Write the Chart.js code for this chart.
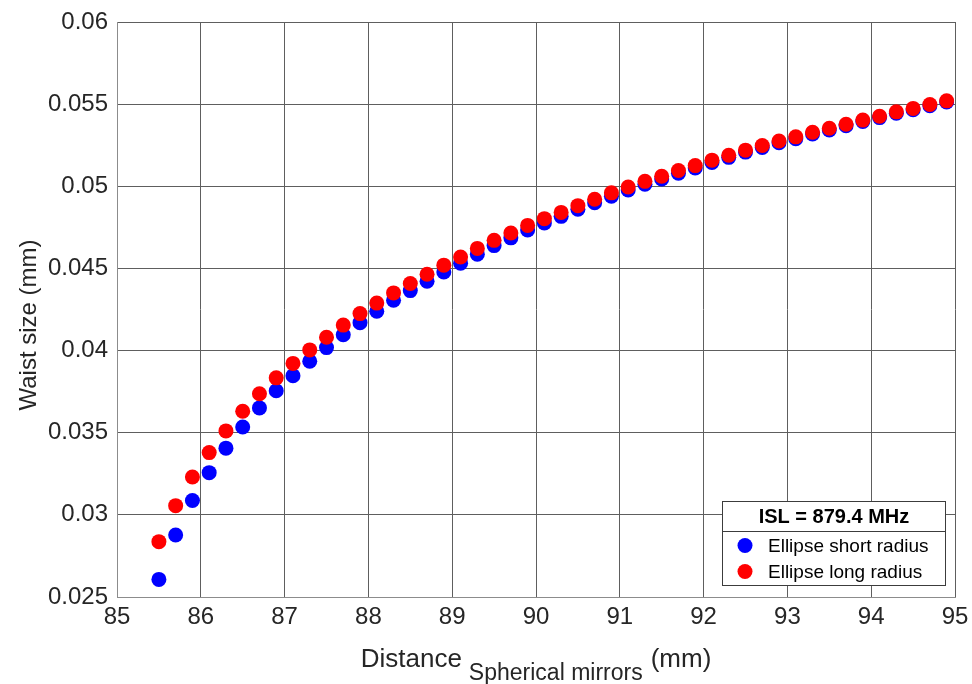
<!DOCTYPE html>
<html>
<head>
<meta charset="utf-8">
<script src="https://cdn.jsdelivr.net/npm/chart.js@4/dist/chart.umd.min.js"></script>
<style>
html,body{margin:0;padding:0;background:#fff;}
#wrap{width:972px;height:684px;position:relative;}
</style>
</head>
<body>
<div id="wrap"><canvas id="c" width="972" height="684"></canvas></div>
<script>
const distances = [85.5,85.7,85.9,86.1,86.3,86.5,86.7,86.9,87.1,87.3,87.5,87.7,87.9,88.1,88.3,88.5,88.7,88.9,89.1,89.3,89.5,89.7,89.9,90.1,90.3,90.5,90.7,90.9,91.1,91.3,91.5,91.7,91.9,92.1,92.3,92.5,92.7,92.9,93.1,93.3,93.5,93.7,93.9,94.1,94.3,94.5,94.7,94.9];
const shortRadius = [0.02607,0.02877,0.03087,0.03257,0.03406,0.03535,0.03651,0.03755,0.03847,0.03935,0.04018,0.04096,0.0417,0.04239,0.04306,0.04365,0.04422,0.04478,0.04532,0.04587,0.04639,0.04686,0.04734,0.04777,0.04817,0.0486,0.049,0.0494,0.04977,0.05012,0.05044,0.0508,0.05111,0.05145,0.05176,0.05208,0.05236,0.05265,0.0529,0.05319,0.05343,0.05369,0.05394,0.05418,0.05445,0.05466,0.0549,0.05513];
const longRadius = [0.02837,0.03056,0.0323,0.03379,0.03511,0.03631,0.03737,0.03834,0.03922,0.04004,0.04081,0.04155,0.04225,0.04289,0.04351,0.04408,0.04465,0.0452,0.0457,0.04622,0.04671,0.04716,0.04762,0.04803,0.04841,0.04882,0.04921,0.0496,0.04996,0.0503,0.05061,0.05096,0.05126,0.05159,0.05189,0.0522,0.05248,0.05276,0.05301,0.05329,0.05353,0.05378,0.05403,0.05426,0.05453,0.05474,0.05498,0.0552];
const xTicks = [85,86,87,88,89,90,91,92,93,94,95];
const yTicks = [0.025,0.03,0.035,0.04,0.045,0.05,0.055,0.06];
const seriesNames = ['Ellipse short radius','Ellipse long radius'];
const legendTitle = 'ISL = 879.4 MHz';
const yTitle = 'Waist size (mm)';
const xTitleMain = 'Distance';
const xTitleSub = 'Spherical mirrors';
const xTitleUnit = '(mm)';

const FONT = '"Liberation Sans", Arial, Helvetica, sans-serif';
const TEXT = '#262626';
const BLUE = '#0000ff';
const RED = '#ff0000';

const toPts = arr => distances.map((x, i) => ({x: x, y: arr[i]}));

const overlay = {
  id: 'overlay',
  afterDraw(chart) {
    const ctx = chart.ctx;
    const ca = chart.chartArea;
    ctx.save();
    // y title
    ctx.fillStyle = TEXT;
    ctx.font = '24px ' + FONT;
    ctx.textAlign = 'center';
    ctx.textBaseline = 'middle';
    ctx.translate(29, 325);
    ctx.rotate(-Math.PI / 2);
    ctx.fillText(yTitle, 0, 0);
    ctx.setTransform(1, 0, 0, 1, 0, 0);

    // x title with subscript
    const mainFont = '26px ' + FONT;
    const subFont = '23px ' + FONT;
    const gap1 = 7, gap2 = 8;
    ctx.font = mainFont;
    const wMain = ctx.measureText(xTitleMain).width;
    const wUnit = ctx.measureText(xTitleUnit).width;
    ctx.font = subFont;
    const wSub = ctx.measureText(xTitleSub).width;
    const total = wMain + gap1 + wSub + gap2 + wUnit;
    let x0 = (ca.left + ca.right) / 2 - total / 2;
    const base = 667;
    ctx.textAlign = 'left';
    ctx.textBaseline = 'alphabetic';
    ctx.font = mainFont;
    ctx.fillText(xTitleMain, x0, base);
    ctx.font = subFont;
    ctx.fillText(xTitleSub, x0 + wMain + gap1, base + 13);
    ctx.font = mainFont;
    ctx.fillText(xTitleUnit, x0 + wMain + gap1 + wSub + gap2, base);

    // legend box
    const bx = 722.5, by = 501.5, bw = 223, bh = 84;
    ctx.fillStyle = '#ffffff';
    ctx.fillRect(bx, by, bw, bh);
    ctx.strokeStyle = '#3c3c3c';
    ctx.lineWidth = 1;
    ctx.strokeRect(bx, by, bw, bh);
    ctx.beginPath();
    ctx.moveTo(bx, 531.5);
    ctx.lineTo(bx + bw, 531.5);
    ctx.stroke();
    ctx.fillStyle = '#000000';
    ctx.font = 'bold 20px ' + FONT;
    ctx.textAlign = 'center';
    ctx.textBaseline = 'middle';
    ctx.fillText(legendTitle, bx + bw / 2, 517);
    const items = [[BLUE, seriesNames[0], 546.5], [RED, seriesNames[1], 572.5]];
    ctx.font = '19px ' + FONT;
    ctx.textAlign = 'left';
    items.forEach(it => {
      ctx.fillStyle = it[0];
      ctx.beginPath();
      ctx.arc(745, it[2] - 1, 7.5, 0, Math.PI * 2);
      ctx.fill();
      ctx.fillStyle = '#000000';
      ctx.fillText(it[1], 768, it[2]);
    });
    ctx.restore();
  }
};

new Chart(document.getElementById('c'), {
  type: 'scatter',
  data: {
    datasets: [
      {label: seriesNames[1], data: toPts(longRadius), backgroundColor: RED, borderColor: RED, borderWidth: 0, pointRadius: 7.5, pointHoverRadius: 7.5},
      {label: seriesNames[0], data: toPts(shortRadius), backgroundColor: BLUE, borderColor: BLUE, borderWidth: 0, pointRadius: 7.5, pointHoverRadius: 7.5}
    ]
  },
  options: {
    responsive: false,
    animation: false,
    devicePixelRatio: 1,
    layout: {autoPadding: false, padding: {left: 0, right: 17, top: 22, bottom: 0}},
    plugins: {legend: {display: false}, tooltip: {enabled: false}},
    scales: {
      x: {
        type: 'linear', min: 85, max: 95,
        afterBuildTicks: s => { s.ticks = xTicks.map(v => ({value: v})); },
        afterFit: s => { s.height = 87; s.paddingLeft = 0; s.paddingRight = 0; },
        ticks: {color: TEXT, font: {family: FONT, size: 24}, padding: 6, callback: v => String(v)},
        grid: {color: '#5e5e5e', lineWidth: 1, drawTicks: false},
        border: {color: '#8c8c8c', width: 1}
      },
      y: {
        type: 'linear', min: 0.025, max: 0.06,
        afterBuildTicks: s => { s.ticks = yTicks.map(v => ({value: v})); },
        afterFit: s => { s.width = 117; s.paddingTop = 0; s.paddingBottom = 0; },
        ticks: {color: TEXT, font: {family: FONT, size: 24}, padding: 9, callback: v => String(Number(v.toFixed(3)))},
        grid: {color: '#5e5e5e', lineWidth: 1, drawTicks: false},
        border: {color: '#8c8c8c', width: 1}
      }
    }
  },
  plugins: [overlay]
});
</script>
</body>
</html>
